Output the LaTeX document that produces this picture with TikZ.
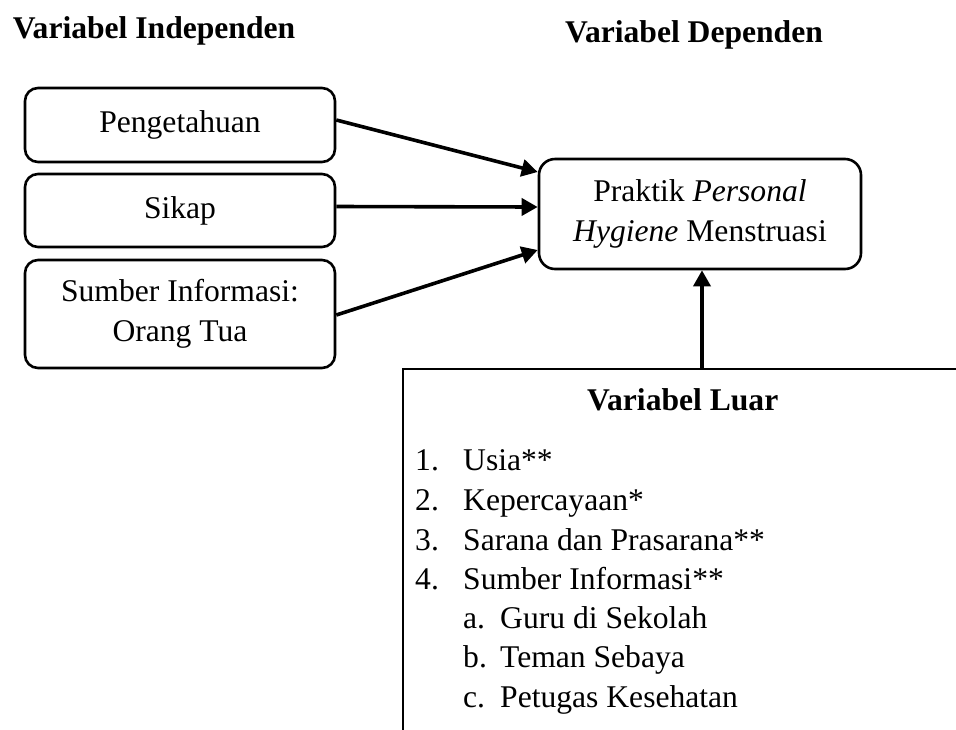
\documentclass[tikz,border=0pt]{standalone}
\usepackage{fontspec}
\setmainfont{Liberation Serif}
\usetikzlibrary{arrows.meta}
\tikzset{
  varbox/.style={draw, line width=2.6pt, rounded corners=13pt, minimum width=310pt, align=center, inner sep=4pt},
  mainbox/.style={draw, line width=2.6pt, rounded corners=16pt, minimum width=322pt, minimum height=110pt, align=center, inner sep=4pt},
  link/.style={line width=3.6pt, -{Triangle[length=16pt,width=17pt]}},
  listtext/.style={anchor=base west, inner sep=0pt},
  header/.style={anchor=base, inner sep=0pt, font=\bfseries},
}
\begin{document}
\begin{tikzpicture}[x=1pt,y=-1pt,every node/.append style={font=\fontsize{31.6}{39.5}\selectfont}]
\useasboundingbox (0,0) rectangle (956,729);
% headers
\node[header, font=\fontsize{31.6}{39.5}\selectfont\bfseries] (hind) at (154,38) {Variabel Independen};
\node[header, font=\fontsize{31.6}{39.5}\selectfont\bfseries] (hdep) at (694,42) {Variabel Dependen};
% independent boxes
\node[varbox, minimum height=74pt] (peng) at (180,125) {Pengetahuan};
\node[varbox, minimum height=73pt] (sikap) at (180,210.5) {Sikap};
\node[varbox, minimum height=108pt] (sumber) at (180,314) {Sumber Informasi:\\Orang Tua};
% dependent box
\node[mainbox] (prak) at (700,214) {Praktik \textit{Personal}\\\textit{Hygiene} Menstruasi};
% arrows
\draw[link] ([yshift=5pt]peng.east) -- ([yshift=42pt]prak.west);
\draw[link] ([yshift=4pt]sikap.east) -- ([yshift=7pt]prak.west);
\draw[link] ([yshift=-1pt]sumber.east) -- ([yshift=-36pt]prak.west);
% outside variable box
\coordinate (luartop) at (702,369);
\draw[line width=2.6pt] (403,735) -- (403,369) -- (962,369);
\draw[link] (luartop) -- (prak.south -| luartop);
\node[anchor=base west, inner sep=0pt, font=\fontsize{31.6}{39.5}\selectfont\bfseries] (luar) at (587,410) {Variabel Luar};
% list
\node[listtext] (n1) at (415,470) {1.};
\node[listtext] (t1) at (463,470) {Usia**};
\node[listtext] (n2) at (415,510) {2.};
\node[listtext] (t2) at (463,510) {Kepercayaan*};
\node[listtext] (n3) at (415,550) {3.};
\node[listtext] (t3) at (463,550) {Sarana dan Prasarana**};
\node[listtext] (n4) at (415,589) {4.};
\node[listtext] (t4) at (463,589) {Sumber Informasi**};
\node[listtext] (na) at (463,628) {a.};
\node[listtext] (ta) at (500,628) {Guru di Sekolah};
\node[listtext] (nb) at (463,667) {b.};
\node[listtext] (tb) at (500,667) {Teman Sebaya};
\node[listtext] (nc) at (463,707) {c.};
\node[listtext] (tc) at (500,707) {Petugas Kesehatan};
\end{tikzpicture}
\end{document}
